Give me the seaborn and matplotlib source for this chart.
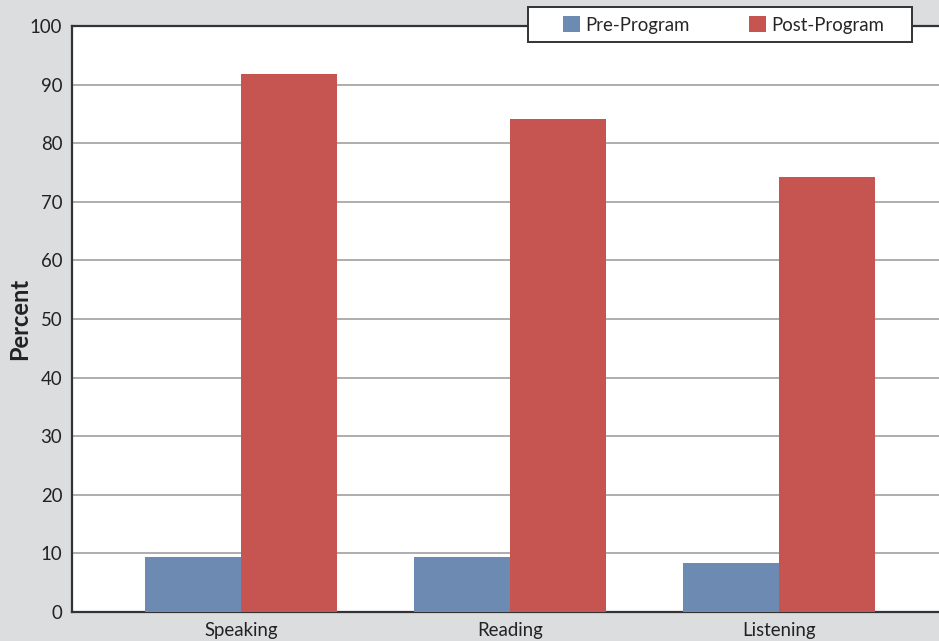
import matplotlib.pyplot as plt
import pandas as pd
import seaborn as sns
from matplotlib.patches import Rectangle

# Data
skills = ["Speaking", "Reading", "Listening"]
pre_program = [9.4, 9.4, 8.4]
post_program = [91.8, 84.1, 74.2]

df = pd.DataFrame({
    "Skill": skills * 2,
    "Group": ["Pre-Program"] * 3 + ["Post-Program"] * 3,
    "Percent": pre_program + post_program,
})

sns.set_style("white")
plt.rcParams["font.family"] = ["Lato", "DejaVu Sans"]

W, H = 939, 641
fig = plt.figure(figsize=(W / 100, H / 100), dpi=100, facecolor="#dcdddf")
ax = fig.add_axes([72 / W, 1 - 612 / H, 1 - 72 / W, (612 - 26) / H])
ax.set_facecolor("white")

sns.barplot(data=df, x="Skill", y="Percent", hue="Group",
            palette=["#6d8ab2", "#c65551"], width=0.714, saturation=1,
            edgecolor="none", ax=ax, zorder=3)

ax.set_ylim(0, 100)
ax.set_xlim(-0.628, 2.595)
ax.set_yticks(range(0, 101, 10))
ax.yaxis.grid(True, color="#a0a0a0", linewidth=1.2, zorder=0)
ax.set_axisbelow(True)
ax.tick_params(axis="both", length=0, labelsize=13.4, colors="#222222")
ax.tick_params(axis="y", pad=7)
ax.tick_params(axis="x", pad=7)
ax.set_xlabel("")
ax.set_ylabel("Percent", fontsize=17, fontweight="bold", color="#222222")
ax.yaxis.set_label_coords((31 - 72) / (W - 72), 0.5)

for side in ["left", "bottom", "top"]:
    ax.spines[side].set_color("#333333")
    ax.spines[side].set_linewidth(1.6)
ax.spines["right"].set_visible(False)

leg = ax.legend(loc="center", bbox_to_anchor=(723.5 / W, 1 - 25 / H),
                bbox_transform=fig.transFigure, ncol=2, frameon=False,
                fontsize=13.4, handlelength=0.9, handleheight=0.9,
                columnspacing=3.2, borderpad=0.3, handletextpad=0.3)
leg.set_zorder(10)

# legend box, drawn separately so its padding can be wider than tall
box = Rectangle((528 / W, 1 - 42 / H), (912 - 528) / W, 35 / H,
                transform=fig.transFigure, facecolor="white",
                edgecolor="#333333", linewidth=1.4, zorder=9)
fig.add_artist(box)
fig.add_artist(leg)

fig.savefig("out.png", dpi=100, facecolor=fig.get_facecolor())
